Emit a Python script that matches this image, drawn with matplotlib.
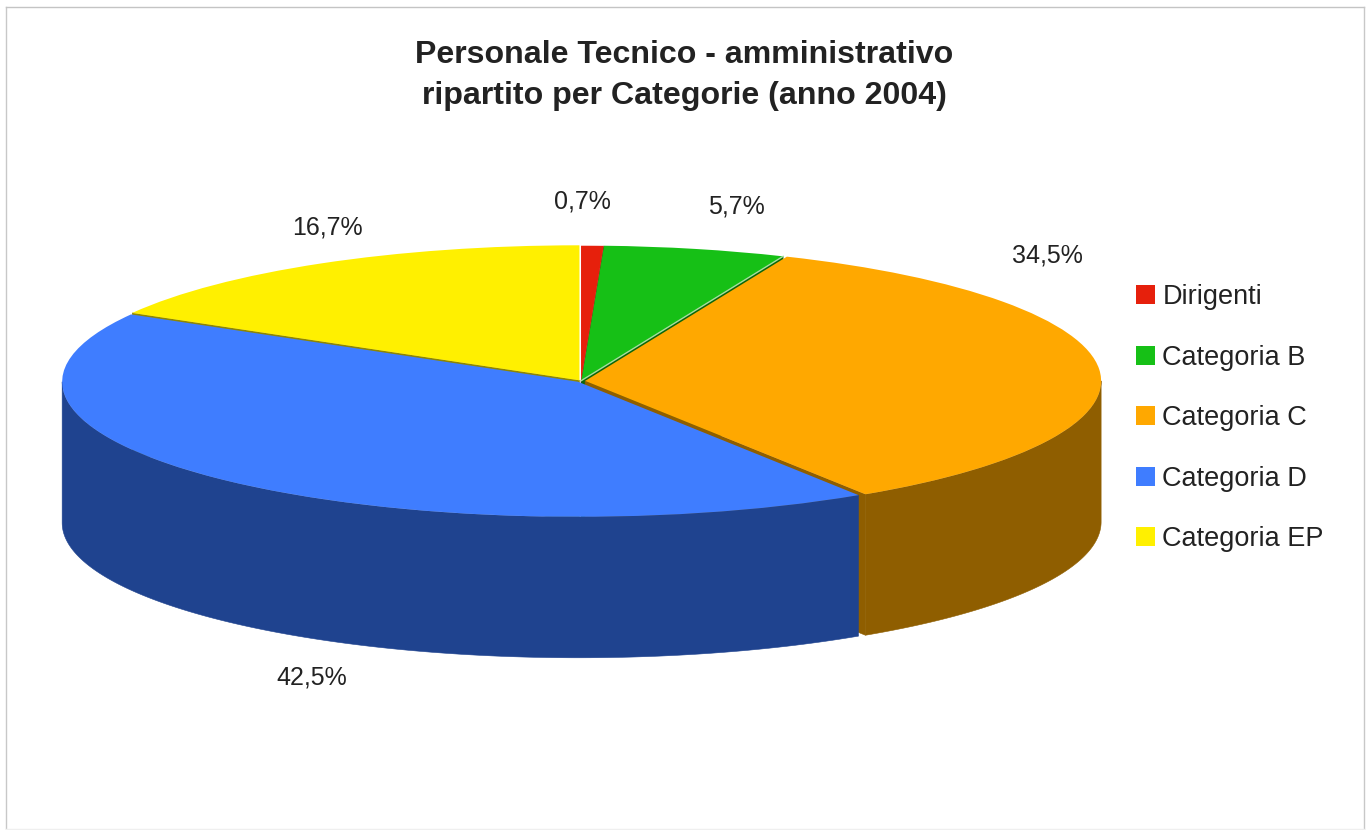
import numpy as np
import matplotlib
matplotlib.use("Agg")
import matplotlib.pyplot as plt
from matplotlib.lines import Line2D
from matplotlib.patches import Patch

plt.rcParams['font.family'] = ['Liberation Sans', 'DejaVu Sans']

categories = ['Dirigenti', 'Categoria B', 'Categoria C', 'Categoria D', 'Categoria EP']
values = [0.7, 5.7, 34.5, 42.5, 16.7]
pct_labels = ['0,7%', '5,7%', '34,5%', '42,5%', '16,7%']
title = 'Personale Tecnico - amministrativo\nripartito per Categorie (anno 2004)'
top_colors = ['#E6200C', '#16C016', '#FFA800', '#3F7DFF', '#FFF000']
side_colors = ['#80140A', '#0B660B', '#8F5E00', '#1F438F', '#8F8600']
explode = [0.002, 0.003, 0.008, 0.008, 0.006]
draw_order = [0, 1, 4, 2, 3]
label_px = [(582, 201), (736, 207), (1047, 255), (312, 677), (327, 228)]

W, H = 1368, 830
CX, CY, RX, RY, DEPTH = 581.0, 381.0, 516.0, 135.0, 141.0

fig = plt.figure(figsize=(W / 100, H / 100), dpi=100, facecolor='white')
ax = fig.add_axes([0, 0, 1, 1])

wedges, _ = ax.pie(values, colors=top_colors, startangle=90, counterclock=False,
                   explode=explode, wedgeprops={'linewidth': 0})
ax.set_aspect('auto')
ax.set_xlim((0 - CX) / RX, (W - CX) / RX)
ax.set_ylim((CY - H) / RY, CY / RY)
depth = DEPTH / RY


def extruded(xs, ys, color, z):
    xs = np.asarray(xs)
    ys = np.asarray(ys)
    ax.fill(np.r_[xs, xs[::-1]], np.r_[ys, ys[::-1] - depth], facecolor=color,
            edgecolor=color, lw=0.4, zorder=z)


for rank, i in enumerate(draw_order):
    w = wedges[i]
    z = 2 * rank + 2
    cx, cy = w.center
    # radial faces seen through the small gaps between slices
    for ang, normal in ((w.theta1, w.theta1 - 90), (w.theta2, w.theta2 + 90)):
        if np.sin(np.radians(normal)) < 0:
            a = np.radians(ang)
            extruded([cx, cx + w.r * np.cos(a)], [cy, cy + w.r * np.sin(a)], side_colors[i], z)
    # outer wall, lower half of the ellipse only
    t1, t2 = w.theta1 % 360, w.theta1 % 360 + (w.theta2 - w.theta1)
    for a1, a2 in ((t1, t2), (t1 - 360, t2 - 360)):
        lo, hi = max(a1, 180), min(a2, 360)
        if hi > lo:
            t = np.radians(np.linspace(lo, hi, 200))
            extruded(cx + w.r * np.cos(t), cy + w.r * np.sin(t), side_colors[i], z)
    w.set_zorder(z + 1)

# pale highlight along the lower edge of the Categoria B slice
g = wedges[1]
ga = np.radians(g.theta1)
ax.plot([g.center[0], g.center[0] + g.r * np.cos(ga)], [g.center[1], g.center[1] + g.r * np.sin(ga)],
        color='#A6DDA0', lw=1, zorder=2 * draw_order.index(1) + 4)

for txt, (px, py) in zip(pct_labels, label_px):
    ax.text((px - CX) / RX, (CY - py) / RY, txt, ha='center', va='center',
            fontsize=18, color='#222222', zorder=50)

fig.text(684 / W, 1 - 75.5 / H, title, ha='center', va='center', fontsize=23.1,
         fontweight='bold', color='#222222', linespacing=1.45)

handles = [Patch(facecolor=c, edgecolor='none', label=n) for c, n in zip(top_colors, categories)]
fig.legend(handles=handles, loc='upper left', bbox_to_anchor=(1136 / W, 1 - 284 / H),
           frameon=False, fontsize=19.5, labelspacing=1.274, borderpad=0, borderaxespad=0,
           handlelength=0.70, handleheight=0.70, handletextpad=0.27, labelcolor='#222222')

for xs, ys, col in (((5.5, 5.5), (830, 7.5), '#C8C8C8'), ((5.5, 1364), (7.5, 7.5), '#C4C4C4'),
                    ((1364, 1364), (7.5, 830), '#C8C8C8'), ((5.5, 1364), (829, 829), '#EFEFEF')):
    fig.add_artist(Line2D([x / W for x in xs], [1 - y / H for y in ys], color=col, lw=1,
                          transform=fig.transFigure))

fig.savefig('out.png', dpi=100, facecolor='white')
